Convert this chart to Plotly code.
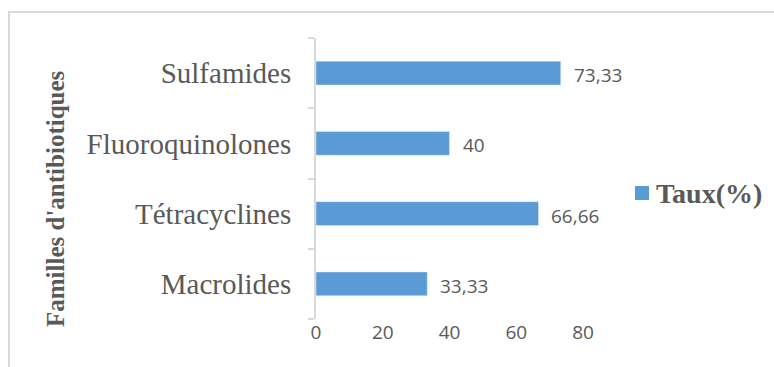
import plotly.graph_objects as go

categories = ["Macrolides", "Tétracyclines", "Fluoroquinolones", "Sulfamides"]
values = [33.33, 66.66, 40, 73.33]
labels = ["33,33", "66,66", "40", "73,33"]
x_ticks = [0, 20, 40, 60, 80]
series_name = "Taux(%)"
axis_title = "Familles d'antibiotiques"
bar_color = "#5b9bd5"

W, H = 774, 367
ml, mr, mt, mb = 316, 191, 38, 48
pw, ph = W - ml - mr, H - mt - mb


def px_x(p):
    return (p - ml) / pw


def px_y(p):
    return (H - p - mb) / ph


fig = go.Figure()
fig.add_trace(go.Bar(
    y=categories, x=values, orientation="h",
    name=series_name, marker=dict(color=bar_color),
    width=0.34, showlegend=False,
))

for c, v, t in zip(categories, values, labels):
    fig.add_annotation(x=v, y=c, text=t, showarrow=False, xanchor="left",
                       xshift=11, yshift=-2,
                       font=dict(family="Open Sans", size=19, color="#595959"))

# outer chart frame
fig.add_shape(type="rect", xref="paper", yref="paper",
              x0=px_x(9), x1=px_x(W + 20), y0=px_y(H + 30), y1=px_y(12),
              line=dict(color="#d9d9d9", width=2), layer="below")

# legend (key + label)
fig.add_shape(type="rect", xref="paper", yref="paper",
              x0=px_x(635), x1=px_x(649), y0=px_y(200), y1=px_y(186),
              fillcolor=bar_color, line=dict(width=0))
fig.add_annotation(xref="paper", yref="paper", x=px_x(654), y=px_y(193),
                   xanchor="left", yanchor="middle", showarrow=False,
                   text="<b>" + series_name + "</b>",
                   font=dict(family="Liberation Serif", size=28, color="#595959"))

fig.add_annotation(xref="paper", yref="paper",
                   x=px_x(55), y=px_y(199), xanchor="center", yanchor="middle",
                   text="<b>" + axis_title + "</b>", textangle=-90, showarrow=False,
                   font=dict(family="Liberation Serif", size=25, color="#595959"))

fig.update_layout(
    width=W, height=H, showlegend=False,
    margin=dict(l=ml, r=mr, t=mt, b=mb, autoexpand=False),
    paper_bgcolor="white", plot_bgcolor="white",
    xaxis=dict(range=[0, 80], tickvals=x_ticks, showgrid=False, zeroline=False,
               showline=False, ticks="", automargin=False,
               tickfont=dict(family="Open Sans", size=19, color="#595959")),
    yaxis=dict(showline=True, linecolor="#d9d9d9", linewidth=2, automargin=False,
               ticks="outside", tickson="boundaries", ticklen=6, tickcolor="#d9d9d9",
               tickwidth=2, showgrid=False, ticklabelstandoff=17,
               tickfont=dict(family="Liberation Serif", size=29, color="#595959")),
)

fig.write_html("out.html")
